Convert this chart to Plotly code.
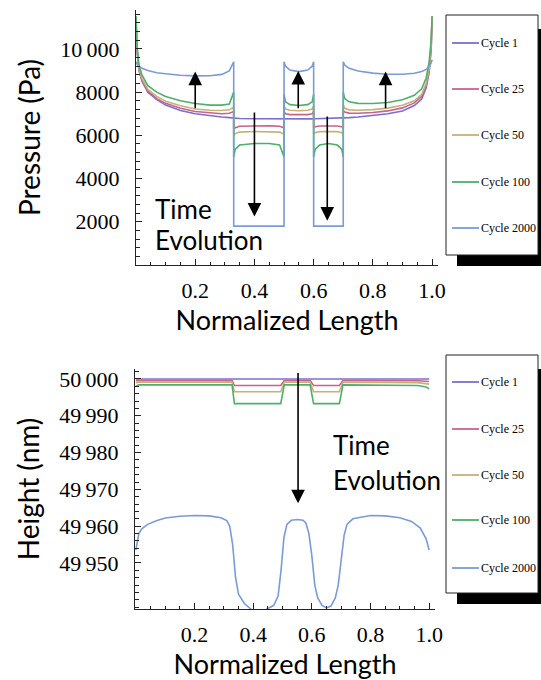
import plotly.graph_objects as go

# ---------------- data ----------------
series_names = ["Cycle 1", "Cycle 25", "Cycle 50", "Cycle 100", "Cycle 2000"]
series_colors = ["#7a6fcf", "#c9628f", "#c4b276", "#4eae6b", "#7b9ad8"]

# Pressure (Pa) vs normalized length
x_p = [0.000, 0.003, 0.010, 0.020, 0.040, 0.070, 0.100, 0.150, 0.200, 0.250, 0.290, 0.315, 0.330,
       0.330, 0.335, 0.350, 0.400, 0.450, 0.485, 0.500,
       0.500, 0.505, 0.520, 0.550, 0.580, 0.595, 0.600,
       0.600, 0.605, 0.620, 0.650, 0.680, 0.695, 0.700,
       0.700, 0.705, 0.720, 0.750, 0.800, 0.850, 0.900, 0.940, 0.965, 0.980, 0.990, 0.997, 1.000]

p_cycle1 = [11500, 10000, 9000, 8500, 8000, 7650, 7400, 7150, 7000, 6900, 6850, 6820, 6800,
            6790, 6785, 6780, 6770, 6760, 6755, 6750,
            6750, 6750, 6750, 6750, 6755, 6760, 6760,
            6760, 6765, 6770, 6780, 6790, 6795, 6800,
            6800, 6805, 6820, 6850, 6920, 7000, 7130, 7380, 7680, 8200, 8900, 10000, 11500]
p_cycle25 = [11500, 10050, 9050, 8550, 8050, 7700, 7480, 7250, 7100, 7030, 7000, 7020, 7100,
             6300, 6350, 6420, 6440, 6440, 6420, 6350,
             7100, 7000, 6960, 6950, 6960, 7000, 7100,
             6350, 6400, 6430, 6440, 6430, 6400, 6350,
             7150, 7080, 7030, 7020, 7060, 7130, 7270, 7500, 7800, 8300, 9000, 10100, 11500]
p_cycle50 = [11500, 10100, 9100, 8620, 8130, 7800, 7580, 7370, 7220, 7160, 7150, 7180, 7300,
             6000, 6080, 6150, 6180, 6180, 6150, 6050,
             7350, 7220, 7160, 7140, 7160, 7220, 7350,
             6050, 6120, 6170, 6180, 6170, 6120, 6050,
             7400, 7250, 7180, 7160, 7190, 7260, 7390, 7600, 7900, 8400, 9100, 10200, 11500]
p_cycle100 = [11500, 10200, 9250, 8800, 8300, 8000, 7800, 7600, 7470, 7400, 7400, 7450, 8000,
              5000, 5350, 5550, 5620, 5620, 5550, 5000,
              7900, 7550, 7420, 7380, 7420, 7550, 7900,
              5000, 5350, 5550, 5620, 5550, 5350, 5000,
              8000, 7700, 7550, 7480, 7470, 7520, 7650, 7850, 8150, 8650, 9400, 10400, 11500]
p_cycle2000 = [9400, 9300, 9200, 9100, 9000, 8900, 8850, 8780, 8750, 8760, 8820, 8980, 9400,
               1800, 1800, 1800, 1800, 1800, 1800, 1800,
               9400, 9200, 9020, 8950, 9020, 9200, 9400,
               1800, 1800, 1800, 1800, 1800, 1800, 1800,
               9400, 9250, 9100, 8980, 8880, 8830, 8830, 8870, 8950, 9050, 9200, 9350, 9500]

# Height (nm) vs normalized length
x_h = [0.000, 0.010, 0.328, 0.336, 0.494, 0.506, 0.594, 0.606, 0.694, 0.706, 0.960, 0.990, 1.000]
h_cycle1 = [50000.0, 50000.0, 50000.0, 50000.0, 50000.0, 50000.0, 50000.0, 50000.0, 50000.0,
            50000.0, 50000.0, 50000.0, 50000.0]
h_cycle25 = [49999.5, 49999.55, 49999.55, 49998.2, 49998.2, 49999.55, 49999.55, 49998.2, 49998.2,
             49999.55, 49999.5, 49999.4, 49999.3]
h_cycle50 = [49999.0, 49999.1, 49999.1, 49996.5, 49996.5, 49999.1, 49999.1, 49996.5, 49996.5,
             49999.1, 49999.0, 49998.8, 49998.6]
h_cycle100 = [49998.0, 49998.4, 49998.4, 49993.3, 49993.3, 49998.4, 49998.4, 49993.3, 49993.3,
              49998.4, 49998.2, 49997.8, 49997.3]

x_h2000 = [0.000, 0.005, 0.010, 0.020, 0.040, 0.070, 0.100, 0.150, 0.200, 0.250, 0.290, 0.310,
           0.320, 0.330, 0.340, 0.350, 0.370, 0.390, 0.420, 0.445, 0.470, 0.485, 0.495, 0.505,
           0.515, 0.530, 0.550, 0.570, 0.580, 0.590, 0.600, 0.610, 0.620, 0.635, 0.650, 0.665,
           0.680, 0.690, 0.700, 0.710, 0.720, 0.740, 0.800, 0.850, 0.900, 0.940, 0.970, 0.990, 1.000]
h_cycle2000 = [49953.5, 49956.5, 49958.0, 49959.3, 49960.5, 49961.5, 49962.2, 49962.7, 49962.9,
               49962.8, 49962.3, 49961.5, 49960.0, 49955.0, 49946.0, 49941.5, 49939.0, 49937.6,
               49935.5, 49937.4, 49938.5, 49941.0, 49948.0, 49957.0, 49960.5, 49961.6, 49961.8,
               49961.6, 49960.8, 49958.0, 49952.0, 49944.0, 49940.5, 49938.5, 49937.8, 49938.3,
               49940.5, 49944.0, 49951.0, 49957.5, 49960.5, 49962.0, 49962.9, 49962.8, 49962.3,
               49961.3, 49959.5, 49956.5, 49953.5]

p_ticks = [2000, 4000, 6000, 8000, 10000]
p_ticktext = ["2000", "4000", "6000", "8000", "10\u2009000"]
h_ticks = [49950, 49960, 49970, 49980, 49990, 50000]
h_ticktext = ["49\u2009950", "49\u2009960", "49\u2009970", "49\u2009980", "49\u2009990", "50\u2009000"]
x_ticks = [0.2, 0.4, 0.6, 0.8, 1.0]
x_ticktext = ["0.2", "0.4", "0.6", "0.8", "1.0"]

# ---------------- figure ----------------
W, H = 541, 680
fig = go.Figure()

p_series = [p_cycle1, p_cycle25, p_cycle50, p_cycle100, p_cycle2000]
for name, col, ys in zip(series_names, series_colors, p_series):
    fig.add_trace(go.Scatter(x=x_p, y=ys, mode="lines", name=name, showlegend=False,
                             line=dict(color=col, width=1.6), xaxis="x", yaxis="y"))

h_series = [(x_h, h_cycle1), (x_h, h_cycle25), (x_h, h_cycle50), (x_h, h_cycle100), (x_h2000, h_cycle2000)]
for name, col, (xs, ys) in zip(series_names, series_colors, h_series):
    fig.add_trace(go.Scatter(x=xs, y=ys, mode="lines", name=name, showlegend=False,
                             line=dict(color=col, width=1.6), xaxis="x2", yaxis="y2"))

def px_x(v):
    return v / W

def px_y(v):
    return 1 - v / H

tick_font = dict(family="Liberation Serif", size=22, color="black")
xtitle_font = dict(family="Lato", size=27, color="black")
ytitle_font = dict(family="Lato", size=28, color="black")
axis_common = dict(showline=True, linecolor="#222", linewidth=1, showgrid=False, zeroline=False,
                   ticks="inside", ticklen=6, tickwidth=1, tickcolor="#222", tickfont=tick_font,
                   tickmode="array", automargin=False)

fig.update_layout(
    width=W, height=H, margin=dict(l=0, r=0, t=0, b=0),
    paper_bgcolor="white", plot_bgcolor="white",
    xaxis=dict(domain=[px_x(136), px_x(438)], range=[0, 1.02], anchor="y",
               tickvals=x_ticks, ticktext=x_ticktext, ticklabelstandoff=6,
               minor=dict(ticks="inside", ticklen=3.5, tickcolor="#222", dtick=0.05, tick0=0),
               title=dict(text="Normalized Length", font=xtitle_font, standoff=0), **axis_common),
    yaxis=dict(domain=[px_y(265), px_y(10)], range=[0, 11800], anchor="x",
               tickvals=p_ticks, ticktext=p_ticktext, ticklabelstandoff=11,
               minor=dict(ticks="inside", ticklen=3.5, tickcolor="#222", dtick=400, tick0=0),
               title=dict(text="Pressure (Pa)", font=ytitle_font, standoff=11), **axis_common),
    xaxis2=dict(domain=[px_x(135), px_x(435)], range=[-0.003, 1.02], anchor="y2",
                tickvals=x_ticks, ticktext=x_ticktext, ticklabelstandoff=6,
                minor=dict(ticks="inside", ticklen=3.5, tickcolor="#222", dtick=0.05, tick0=0),
                title=dict(text="Normalized Length", font=xtitle_font, standoff=0), **axis_common),
    yaxis2=dict(domain=[px_y(609), px_y(369)], range=[49937.5, 50002.7], anchor="x2",
                tickvals=h_ticks, ticktext=h_ticktext, ticklabelstandoff=11,
                minor=dict(ticks="inside", ticklen=3.5, tickcolor="#222", dtick=2, tick0=49950),
                title=dict(text="Height (nm)", font=ytitle_font, standoff=11), **axis_common),
)

# arrows (tail -> head) in data coordinates
arrows_top = [(0.20, 7180, 0.20, 8950), (0.548, 7180, 0.548, 8980), (0.843, 7180, 0.843, 8950),
              (0.40, 7130, 0.40, 2240), (0.646, 6940, 0.646, 2050)]
for x0, y0, x1, y1 in arrows_top:
    fig.add_annotation(x=x1, y=y1, ax=x0, ay=y0, xref="x", yref="y", axref="x", ayref="y",
                       text="", showarrow=True, arrowhead=2, arrowsize=1.7, arrowwidth=1.6,
                       arrowcolor="black")
fig.add_annotation(x=0.553, y=49966.2, ax=0.553, ay=50002.0, xref="x2", yref="y2", axref="x2",
                   ayref="y2", text="", showarrow=True, arrowhead=2, arrowsize=1.7, arrowwidth=1.6,
                   arrowcolor="black")

note_font = dict(family="Lato", size=26, color="black")
fig.add_annotation(x=0.057, y=(265 - 209) / 21.6 * 1000, xref="x", yref="y", text="Time",
                   showarrow=False, xanchor="left", yanchor="middle", font=note_font)
fig.add_annotation(x=0.057, y=(265 - 240) / 21.6 * 1000, xref="x", yref="y", text="Evolution",
                   showarrow=False, xanchor="left", yanchor="middle", font=note_font)
fig.add_annotation(x=0.667, y=49982.1, xref="x2", yref="y2", text="Time",
                   showarrow=False, xanchor="left", yanchor="middle", font=note_font)
fig.add_annotation(x=0.667, y=49972.6, xref="x2", yref="y2", text="Evolution",
                   showarrow=False, xanchor="left", yanchor="middle", font=note_font)

# legends (box with drop shadow)
legend_font = dict(family="Liberation Serif", size=12, color="black")
for top, bottom, rows in [(15, 255, [43, 89, 135, 182, 228]), (355, 593, [382, 429, 475, 520, 568])]:
    fig.add_shape(type="rect", xref="paper", yref="paper",
                  x0=px_x(457), x1=px_x(548), y0=px_y(bottom + 11), y1=px_y(top + 14),
                  fillcolor="black", line=dict(width=0))
    fig.add_shape(type="rect", xref="paper", yref="paper",
                  x0=px_x(446), x1=px_x(538), y0=px_y(bottom), y1=px_y(top),
                  fillcolor="white", line=dict(color="#222", width=1))
    for name, col, ry in zip(series_names, series_colors, rows):
        fig.add_shape(type="line", xref="paper", yref="paper",
                      x0=px_x(452), x1=px_x(479), y0=px_y(ry), y1=px_y(ry),
                      line=dict(color=col, width=1.8))
        fig.add_annotation(x=px_x(479), y=px_y(ry), xref="paper", yref="paper", text=name,
                           showarrow=False, xanchor="left", yanchor="middle", font=legend_font)

fig.write_html("out.html", config={"displayModeBar": False},
               post_script="document.body.style.margin='0';document.body.style.overflow='hidden';")
